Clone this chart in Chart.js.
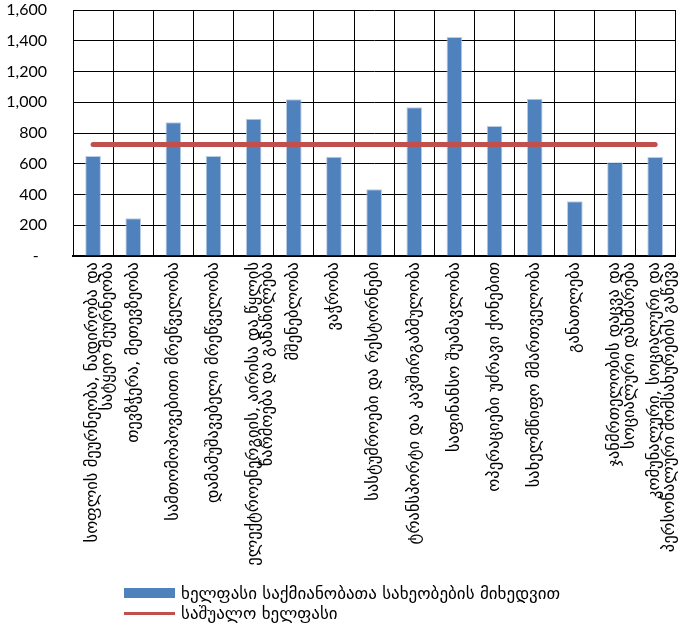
<!DOCTYPE html>
<html>
<head>
<meta charset="utf-8">
<script src="https://cdn.jsdelivr.net/npm/chart.js@4/dist/chart.umd.min.js"></script>
<style>
    body { margin: 0; background: #fff; }
    #wrap { position: relative; width: 683px; height: 629px; overflow: hidden; }
    #chart { position: absolute; left: 0; top: 0; }
    #legend { position: absolute; left: 124px; top: 583px; font: 17px "DejaVu Sans", sans-serif; color: #000; }
    .item { display: flex; align-items: center; height: 20px; }
    .swatch { width: 51px; margin-right: 6px; }
</style>
</head>
<body>
<div id="wrap">
    <canvas id="chart" width="690" height="629"></canvas>
    <div id="legend"></div>
</div>
<script>
// დარგები (კატეგორიები)
const categories = [
    ['სოფლის მეურნეობა, ნადირობა და', 'სატყეო მეურნეობა'],
    'თევზჭერა, მეთევზეობა',
    'სამთომოპოვებითი მრეწველობა',
    'დამამუშავებელი მრეწველობა',
    ['ელექტროენერგიის, აირისა და წყლის', 'წარმოება და განაწილება'],
    'მშენებლობა',
    'ვაჭრობა',
    'სასტუმროები და რესტორნები',
    'ტრანსპორტი და კავშირგაბმულობა',
    'საფინანსო შუამავლობა',
    'ოპერაციები უძრავი ქონებით',
    'სახელმწიფო მმართველობა',
    'განათლება',
    ['ჯანმრთელობის დაცვა და', 'სოციალური დახმარება'],
    ['კომუნალური, სოციალური და', 'პერსონალური მომსახურების გაწევა']
];

const wages = [650, 245, 870, 650, 893, 1019, 646, 434, 967, 1424, 846, 1023, 356, 609, 644];
const averageWage = [726, 726, 726, 726, 726, 726, 726, 726, 726, 726, 726, 726, 726, 726, 726];

const yTicks = { min: 0, max: 1600, step: 200 };

const seriesNames = ['ხელფასი საქმიანობათა სახეობების მიხედვით', 'საშუალო ხელფასი'];

const ctx = document.getElementById('chart').getContext('2d');
const chart = new Chart(ctx, {
    data: {
        labels: categories,
        datasets: [
            {
                type: 'line',
                label: seriesNames[1],
                data: averageWage,
                borderColor: '#C0504D',
                borderWidth: 5,
                borderCapStyle: 'round',
                pointRadius: 0,
                order: 1
            },
            {
                type: 'bar',
                label: seriesNames[0],
                data: wages,
                backgroundColor: '#4F81BD',
                borderColor: '#B9CDE5',
                borderWidth: 1,
                barPercentage: 0.39,
                categoryPercentage: 1,
                order: 2
            }
        ]
    },
    options: {
        responsive: false,
        animation: false,
        layout: { padding: { top: 10, right: 4, bottom: 0, left: 0 } },
        plugins: {
            legend: { display: false },
            tooltip: { enabled: false }
        },
        scales: {
            x: {
                offset: true,
                grid: { color: '#000', lineWidth: 1, offset: true, drawTicks: false },
                border: { color: '#000', width: 2 },
                ticks: {
                    autoSkip: false,
                    minRotation: 90,
                    maxRotation: 90,
                    padding: 6,
                    color: '#000',
                    font: { family: '"DejaVu Sans", sans-serif', size: 16.5, lineHeight: 0.87 }
                },
                afterFit: s => { s.height = 373; }
            },
            y: {
                min: yTicks.min,
                max: yTicks.max,
                grid: { color: '#000', lineWidth: 1, drawTicks: false },
                border: { color: '#000', width: 1 },
                ticks: {
                    stepSize: yTicks.step,
                    padding: 26,
                    color: '#000',
                    font: { family: 'Lato, sans-serif', size: 16 },
                    callback: v => v === 0 ? '-  ' : v.toLocaleString('en-US')
                },
                afterFit: s => {
                    s.width = 73;
                    // tick padding would otherwise push the plot down
                    s.paddingTop = 10;
                    s.paddingBottom = 10;
                }
            }
        }
    }
});

// ლეგენდა
const legend = document.getElementById('legend');
[chart.data.datasets[1], chart.data.datasets[0]].forEach(ds => {
    const row = document.createElement('div');
    row.className = 'item';
    const sw = document.createElement('div');
    sw.className = 'swatch';
    if (ds.type === 'bar') {
        sw.style.height = '10px';
        sw.style.background = ds.backgroundColor;
    } else {
        sw.style.height = '3px';
        sw.style.background = ds.borderColor;
    }
    const txt = document.createElement('span');
    txt.textContent = ds.label;
    row.appendChild(sw);
    row.appendChild(txt);
    legend.appendChild(row);
});
</script>
</body>
</html>
